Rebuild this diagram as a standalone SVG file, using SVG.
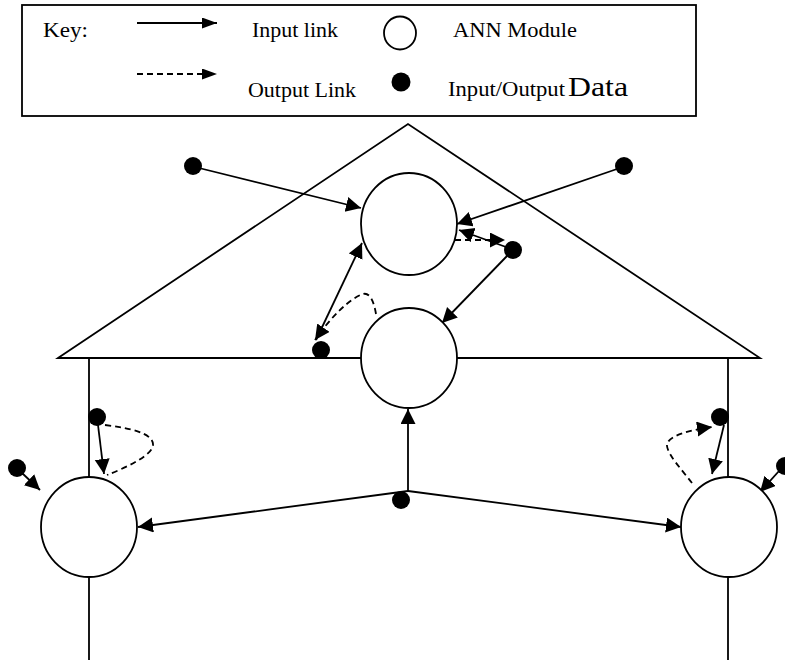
<svg xmlns="http://www.w3.org/2000/svg" width="785" height="660" viewBox="0 0 785 660">
<style>
.ln{stroke:#000;stroke-width:1.8;fill:none}
.ds{stroke:#000;stroke-width:1.8;fill:none;stroke-dasharray:6 4}
.mod{stroke:#000;stroke-width:1.8;fill:#fff}
.dot{fill:#000}
.t{font-family:"Liberation Serif","Times New Roman",serif;font-size:20px;fill:#000}
</style>
<defs>
<marker id="ah" markerUnits="userSpaceOnUse" markerWidth="17" markerHeight="16" refX="15" refY="7.5" orient="auto">
<path d="M0,0 L15,7.5 L0,15 z" fill="#000"/>
</marker>
<marker id="ahk" markerUnits="userSpaceOnUse" markerWidth="16" markerHeight="12" refX="15" refY="5.5" orient="auto">
<path d="M0,0 L15,5.5 L0,11 z" fill="#000"/>
</marker>
</defs>
<rect width="785" height="660" fill="#fff"/>

<g id="key">
<rect x="22" y="5" width="674" height="111" fill="#fff" stroke="#000" stroke-width="1.8"/>
<text class="t" x="43" y="37" textLength="45" lengthAdjust="spacingAndGlyphs">Key:</text>
<line class="ln" x1="137" y1="23" x2="217" y2="23" marker-end="url(#ahk)"/>
<text class="t" x="252" y="37" textLength="86" lengthAdjust="spacingAndGlyphs">Input link</text>
<ellipse class="mod" cx="400" cy="33" rx="16" ry="16.5"/>
<text class="t" x="453" y="37" textLength="124" lengthAdjust="spacingAndGlyphs">ANN Module</text>
<line class="ds" x1="137" y1="74" x2="217" y2="74" marker-end="url(#ahk)"/>
<text class="t" x="248" y="97" textLength="108" lengthAdjust="spacingAndGlyphs">Output Link</text>
<circle class="dot" cx="401" cy="82" r="9.5"/>
<text class="t" x="448" y="96" textLength="117" lengthAdjust="spacingAndGlyphs">Input/Output</text>
<text class="t" x="568" y="96" style="font-size:27px" textLength="60" lengthAdjust="spacingAndGlyphs">Data</text>
</g>

<g id="structure">
<path class="ln" d="M58,358 L408,124 L760,358 Z"/>
<line class="ln" x1="89" y1="358" x2="89" y2="660"/>
<line class="ln" x1="728" y1="358" x2="728" y2="660"/>
</g>

<g id="connectors">
<line class="ln" x1="199" y1="168" x2="361" y2="208" marker-end="url(#ah)"/>
<line class="ln" x1="617" y1="169" x2="457" y2="224" marker-end="url(#ah)"/>
<line class="ln" x1="506" y1="247" x2="459" y2="230" marker-end="url(#ah)"/>
<line class="ds" x1="455" y1="240" x2="505" y2="240" marker-end="url(#ah)"/>
<line class="ln" x1="507" y1="256" x2="442" y2="323" marker-end="url(#ah)"/>
<line class="ln" x1="316" y1="340" x2="362" y2="243" marker-end="url(#ah)"/>
<path class="ds" d="M376,314 C374,302 370,292 363,294 C350,298 330,318 315,340" marker-end="url(#ah)"/>
<polyline class="ln" points="408,491 408,409" marker-end="url(#ah)"/>
<line class="ln" x1="408" y1="491" x2="138" y2="527" marker-end="url(#ah)"/>
<line class="ln" x1="408" y1="491" x2="681" y2="527" marker-end="url(#ah)"/>
<line class="ln" x1="98" y1="425" x2="104" y2="474" marker-end="url(#ah)"/>
<path class="ds" d="M105,425 C130,428 152,433 153,444 C154,455 125,468 107,475"/>
<line class="ln" x1="22" y1="473" x2="40" y2="490" marker-end="url(#ah)"/>
<line class="ln" x1="724" y1="425" x2="712" y2="474" marker-end="url(#ah)"/>
<path class="ds" d="M692,483 C682,470 668,455 667,446 C666,436 690,430 712,427" marker-end="url(#ah)"/>
<line class="ln" x1="779" y1="471" x2="760" y2="492" marker-end="url(#ah)"/>
</g>

<g id="module-top"><ellipse class="mod" cx="409" cy="224" rx="48" ry="51"/></g>
<g id="module-middle"><ellipse class="mod" cx="409" cy="358" rx="48" ry="50"/></g>
<g id="module-left"><ellipse class="mod" cx="89" cy="527" rx="48" ry="50"/></g>
<g id="module-right"><ellipse class="mod" cx="729" cy="527" rx="48" ry="50"/></g>

<g id="data-top-left"><circle class="dot" cx="193" cy="166" r="9"/></g>
<g id="data-top-right"><circle class="dot" cx="624" cy="166" r="9"/></g>
<g id="data-mid-right"><circle class="dot" cx="513" cy="250" r="9"/></g>
<g id="data-base"><circle class="dot" cx="321" cy="350" r="9"/></g>
<g id="data-bottom"><circle class="dot" cx="401" cy="500" r="9"/></g>
<g id="data-left-line"><circle class="dot" cx="97" cy="417" r="9"/></g>
<g id="data-left-far"><circle class="dot" cx="17" cy="468" r="9"/></g>
<g id="data-right-line"><circle class="dot" cx="720" cy="417" r="9"/></g>
<g id="data-right-far"><circle class="dot" cx="785" cy="466" r="9"/></g>
</svg>
